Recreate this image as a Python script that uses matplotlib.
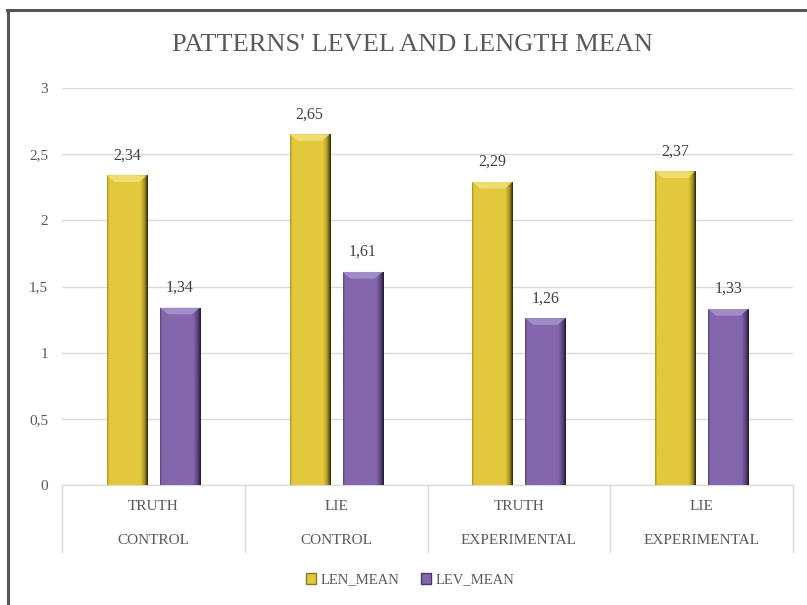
import matplotlib.pyplot as plt
import numpy as np
from matplotlib.lines import Line2D
from matplotlib.patches import Patch
from matplotlib.colors import LinearSegmentedColormap

# chart data
conditions = ["TRUTH", "LIE", "TRUTH", "LIE"]
groups = ["CONTROL", "CONTROL", "EXPERIMENTAL", "EXPERIMENTAL"]
len_mean = [2.34, 2.65, 2.29, 2.37]
lev_mean = [1.34, 1.61, 1.26, 1.33]
series_names = ["LEN_MEAN", "LEV_MEAN"]
y_ticks = [0, 0.5, 1, 1.5, 2, 2.5, 3]

yellow = "#E3C83C"
purple = "#8466AD"
text_gray = "#595959"
serif = ["Liberation Serif", "DejaVu Serif"]

W, H = 807, 605
fig = plt.figure(figsize=(W / 100, H / 100), dpi=100)
ax = fig.add_axes([62 / W, 1 - 485 / H, (793 - 62) / W, (485 - 88) / H])


def shaded_bars(ax, xs, vals, width, base, dark, light, edge):
    cmap = LinearSegmentedColormap.from_list(
        "b", [(0, dark), (0.05, base), (0.82, base), (0.92, dark), (1, edge)])
    grad = np.linspace(0, 1, 128).reshape(1, -1)
    bars = ax.bar(xs, vals, width, color=base, zorder=2)
    for b in bars:
        x0, w, h = b.get_x(), b.get_width(), b.get_height()
        im = ax.imshow(grad, extent=[x0, x0 + w, 0, h], aspect="auto",
                       cmap=cmap, zorder=3, interpolation="bilinear")
        im.set_clip_path(b)
        # top bevel, lighter strip
        bev = 0.05
        ax.fill([x0, x0 + w, x0 + w * 0.8, x0 + w * 0.2],
                [h, h, h - bev, h - bev],
                color=light, alpha=0.85, zorder=4, lw=0)
    return bars


x = np.arange(len(len_mean))
bw = 0.22
off = 0.145
shaded_bars(ax, x - off, len_mean, bw, yellow, "#a8921f", "#f2e07a", "#2a250c")
shaded_bars(ax, x + off, lev_mean, bw, purple, "#5a457c", "#a794cb", "#231a30")

for xi, v in zip(x - off, len_mean):
    ax.text(xi, v + 0.09, f"{v:.2f}".replace(".", ","), ha="center", va="bottom",
            fontsize=11.5, color="#404040", family=serif)
for xi, v in zip(x + off, lev_mean):
    ax.text(xi, v + 0.09, f"{v:.2f}".replace(".", ","), ha="center", va="bottom",
            fontsize=11.5, color="#404040", family=serif)

ax.set_xlim(-0.5, len(x) - 0.5)
ax.set_ylim(0, 3)
ax.set_yticks(y_ticks)
ax.set_yticklabels([f"{t:g}".replace(".", ",") for t in y_ticks],
                   fontsize=11, color=text_gray, family=serif)
ax.tick_params(axis="y", length=0, pad=10)
ax.set_xticks([])
ax.grid(axis="y", color="#D9D9D9", lw=1, zorder=0)
ax.set_axisbelow(True)
for s in ["top", "right", "left"]:
    ax.spines[s].set_visible(False)
ax.spines["bottom"].set_color("#D9D9D9")

# two-level category axis
trans = ax.get_xaxis_transform()
drop = 67 / (485 - 88)
for b in np.arange(len(x) + 1) - 0.5:
    ax.add_line(Line2D([b, b], [0, -drop], transform=trans, color="#D9D9D9",
                       lw=1, clip_on=False))
for xi, c, g in zip(x, conditions, groups):
    ax.text(xi, -21 / 397, c, transform=trans, ha="center", va="center",
            fontsize=11, color=text_gray, family=serif)
    ax.text(xi, -55 / 397, g, transform=trans, ha="center", va="center",
            fontsize=11, color=text_gray, family=serif)

fig.text(413 / W, 1 - 45 / H, "PATTERNS' LEVEL AND LENGTH MEAN", ha="center",
         va="center", fontsize=19, color=text_gray, family=serif)

handles = [Patch(facecolor=yellow, edgecolor="#8a7a20"),
           Patch(facecolor=purple, edgecolor="#4a3868")]
fig.legend(handles, series_names, loc="center", bbox_to_anchor=(410 / W, 1 - 580 / H),
           ncol=2, frameon=False, handlelength=0.7, handleheight=0.7,
           handletextpad=0.3, columnspacing=1.5, prop={"family": serif, "size": 10.5},
           labelcolor=text_gray)

# frame lines (top and left only)
fig.add_artist(Line2D([7 / W, 1], [1 - 10 / H, 1 - 10 / H], transform=fig.transFigure,
                      color="#555555", lw=2.2))
fig.add_artist(Line2D([8 / W, 8 / W], [0, 1 - 10 / H], transform=fig.transFigure,
                      color="#555555", lw=2.2))

fig.savefig("out.png", dpi=100, facecolor="white")
